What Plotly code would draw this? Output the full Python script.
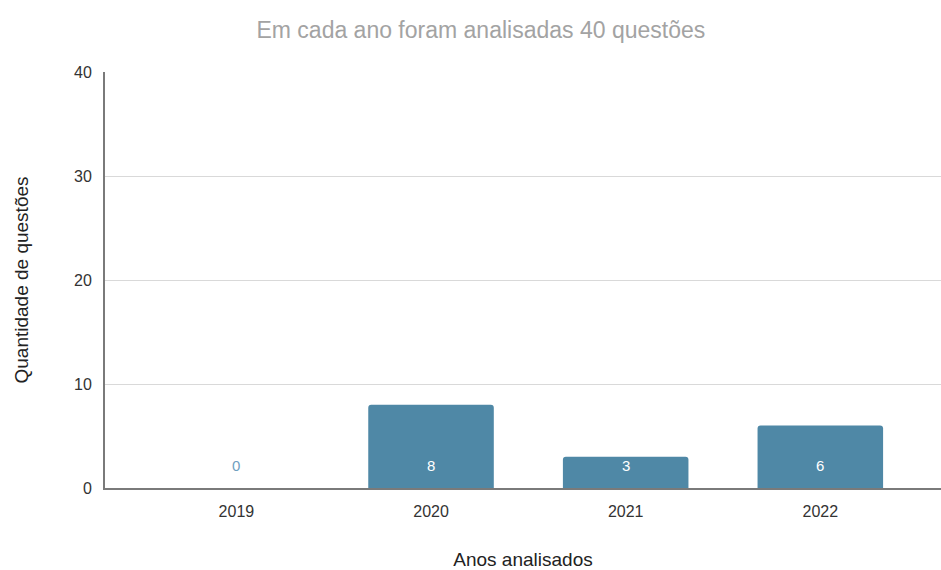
import plotly.graph_objects as go

# Questões analisadas por ano
anos = ["2019", "2020", "2021", "2022"]
questoes = [0, 8, 3, 6]
y_ticks = [0, 10, 20, 30, 40]

bar_color = "#4f88a6"
font_family = "Liberation Sans, Arial, sans-serif"

fig = go.Figure()
fig.add_trace(go.Bar(
    x=list(range(len(anos))),
    y=questoes,
    width=0.645,
    marker=dict(color=bar_color, line=dict(width=0)),
    hoverinfo="skip",
))

# value labels sitting near the base of each bar
for i, v in enumerate(questoes):
    fig.add_annotation(
        x=i, y=0, yref="y", xref="x",
        text=str(v), showarrow=False,
        yanchor="bottom", yshift=12,
        font=dict(family=font_family, size=15,
                  color="white" if v > 0 else "#6f9fbf"),
    )

fig.update_layout(
    width=941, height=570,
    margin=dict(l=105, r=0, t=72, b=82),
    paper_bgcolor="white", plot_bgcolor="white",
    barcornerradius=3,
    showlegend=False,
    font=dict(family=font_family, size=16, color="#333"),
    title=dict(
        text="Em cada ano foram analisadas 40 questões",
        x=0.511, xanchor="center", y=0.947, yanchor="middle",
        font=dict(family=font_family, size=23, color="#a3a3a3"),
    ),
    xaxis=dict(
        tickmode="array",
        tickvals=list(range(len(anos))),
        ticktext=anos,
        range=[-0.675, 3.62],
        automargin=False,
        showgrid=False,
        showline=True, linecolor="#7a7a7a", linewidth=2,
        ticks="", ticklabelstandoff=8,
        tickfont=dict(size=16, color="#333"),
        title=dict(text="Anos analisados", standoff=38,
                   font=dict(size=19, color="#222")),
    ),
    yaxis=dict(
        range=[0, 40],
        tickvals=y_ticks,
        automargin=False,
        showgrid=True, gridcolor="#d9d9d9", gridwidth=1,
        showline=True, linecolor="#7a7a7a", linewidth=2,
        zeroline=False,
        ticks="", ticklabelstandoff=8,
        tickfont=dict(size=16, color="#333"),
        title=dict(text="Quantidade de questões", standoff=40,
                   font=dict(size=19, color="#222")),
    ),
)

fig.write_html("out.html")
